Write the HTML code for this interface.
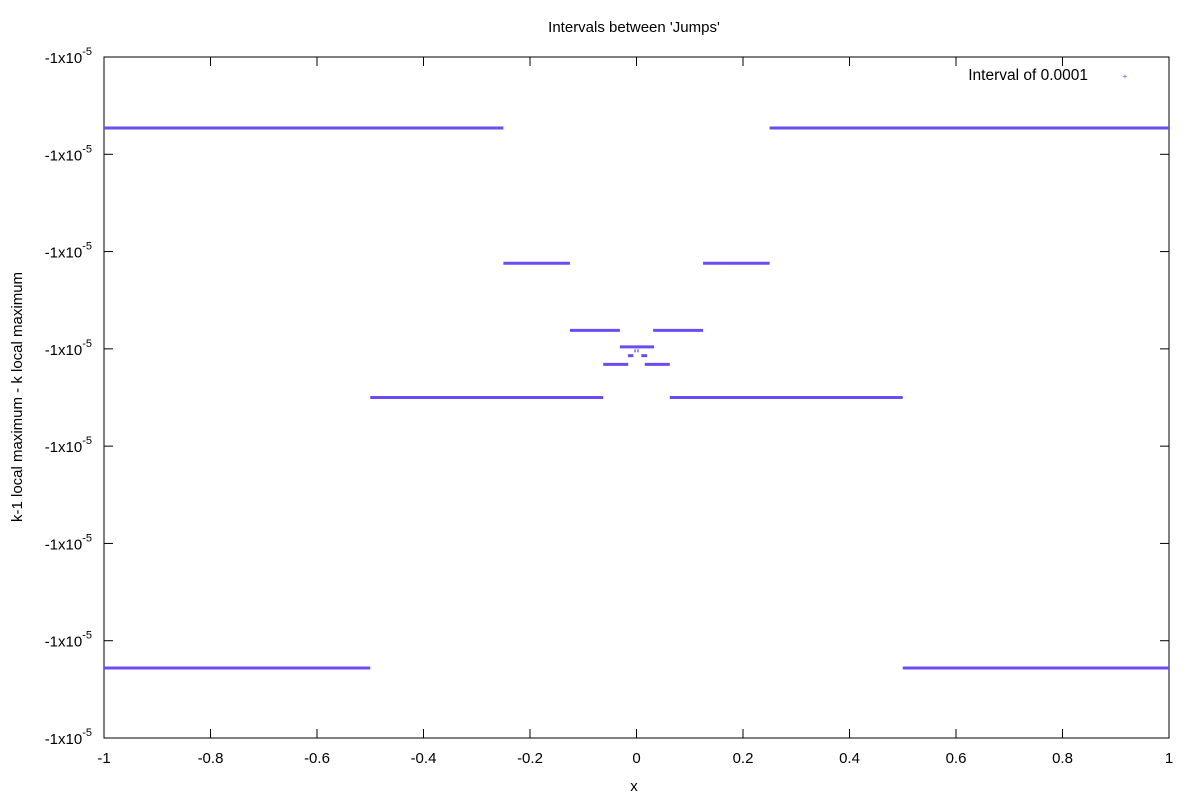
<!DOCTYPE html>
<html><head><meta charset="utf-8"><style>
body{margin:0;background:#fff;}
svg text{font-family:"Liberation Sans",sans-serif;fill:#000;}
</style></head><body>
<svg width="1200" height="800" id="c">
<rect width="1200" height="800" fill="#fff"/>
<text x="634" y="32" font-size="15" text-anchor="middle">Intervals between 'Jumps'</text>
<text x="634" y="791" font-size="15" text-anchor="middle">x</text>
<text transform="translate(22,397) rotate(-90)" font-size="15" text-anchor="middle">k-1 local maximum - k local maximum</text>
<rect x="104" y="57" width="1065" height="681" fill="none" stroke="#000" stroke-width="1"/>
<g id="ticks"></g>
<g id="marks"></g>
<text x="1088" y="80" font-size="15.5" text-anchor="end">Interval of 0.0001</text>
<text x="1125" y="79" font-size="8" text-anchor="middle" style="fill:#6a4cf2">+</text>
</svg>
<script>
const xTicks=[-1,-0.8,-0.6,-0.4,-0.2,0,0.2,0.4,0.6,0.8,1];
const xTickLabels=["-1","-0.8","-0.6","-0.4","-0.2","0","0.2","0.4","0.6","0.8","1"];
const yTicks=[0,1,2,3,4,5,6,7];
const segStart=[-1,0.5,-1,0.25,-0.5,0.0625,-0.25,0.125,-0.125,0.03125,-0.0312,-0.0625,0.0156,-0.016,0.009,-0.004,0.0015];
const segEnd=[-0.5,1,-0.25,1,-0.0625,0.5,-0.125,0.25,-0.0312,0.125,0.033,-0.0156,0.0625,-0.006,0.02,-0.0015,0.004];
const segLevel=[0.72,0.72,6.27,6.27,3.50,3.50,4.88,4.88,4.19,4.19,4.02,3.84,3.84,3.93,3.93,3.98,3.98];
const X=v=>104+(v+1)/2*1065;
const Y=v=>738-v/7*681;
const NS="http://www.w3.org/2000/svg";
const tg=document.getElementById('ticks'),mg=document.getElementById('marks');
function mk(tag,a,p){const e=document.createElementNS(NS,tag);for(const k in a)e.setAttribute(k,a[k]);p.appendChild(e);return e;}
xTicks.forEach((t,i)=>{
 const x=X(t);
 const a=mk('line',{x1:x,x2:x,y1:738,y2:729,stroke:'#000'},tg);
 
 
 const b=mk('line',{x1:x,x2:x,y1:57,y2:66,stroke:'#000'},tg);
 
 
 const l=mk('text',{x:x,y:763,'font-size':15,'text-anchor':'middle'},tg);l.textContent=xTickLabels[i];
 
 
});
yTicks.forEach(t=>{
 const y=Y(t);
 const a=mk('line',{x1:104,x2:113,y1:y,y2:y,stroke:'#000'},tg);
 
 
 const b=mk('line',{x1:1160,x2:1169,y1:y,y2:y,stroke:'#000'},tg);
 
 
 const l=mk('text',{x:92,y:y+6,'font-size':15,'text-anchor':'end'},tg);
 l.innerHTML='-1x10<tspan dy="-8" font-size="11">-5</tspan>';
 
 
});
segStart.forEach((s,i)=>{
 const y=Y(segLevel[i]);
 const e=mk('line',{x1:X(s),x2:X(segEnd[i]),y1:y,y2:y,stroke:'#6a4cf2','stroke-width':3},mg);
 
 
});
</script>
</body></html>
